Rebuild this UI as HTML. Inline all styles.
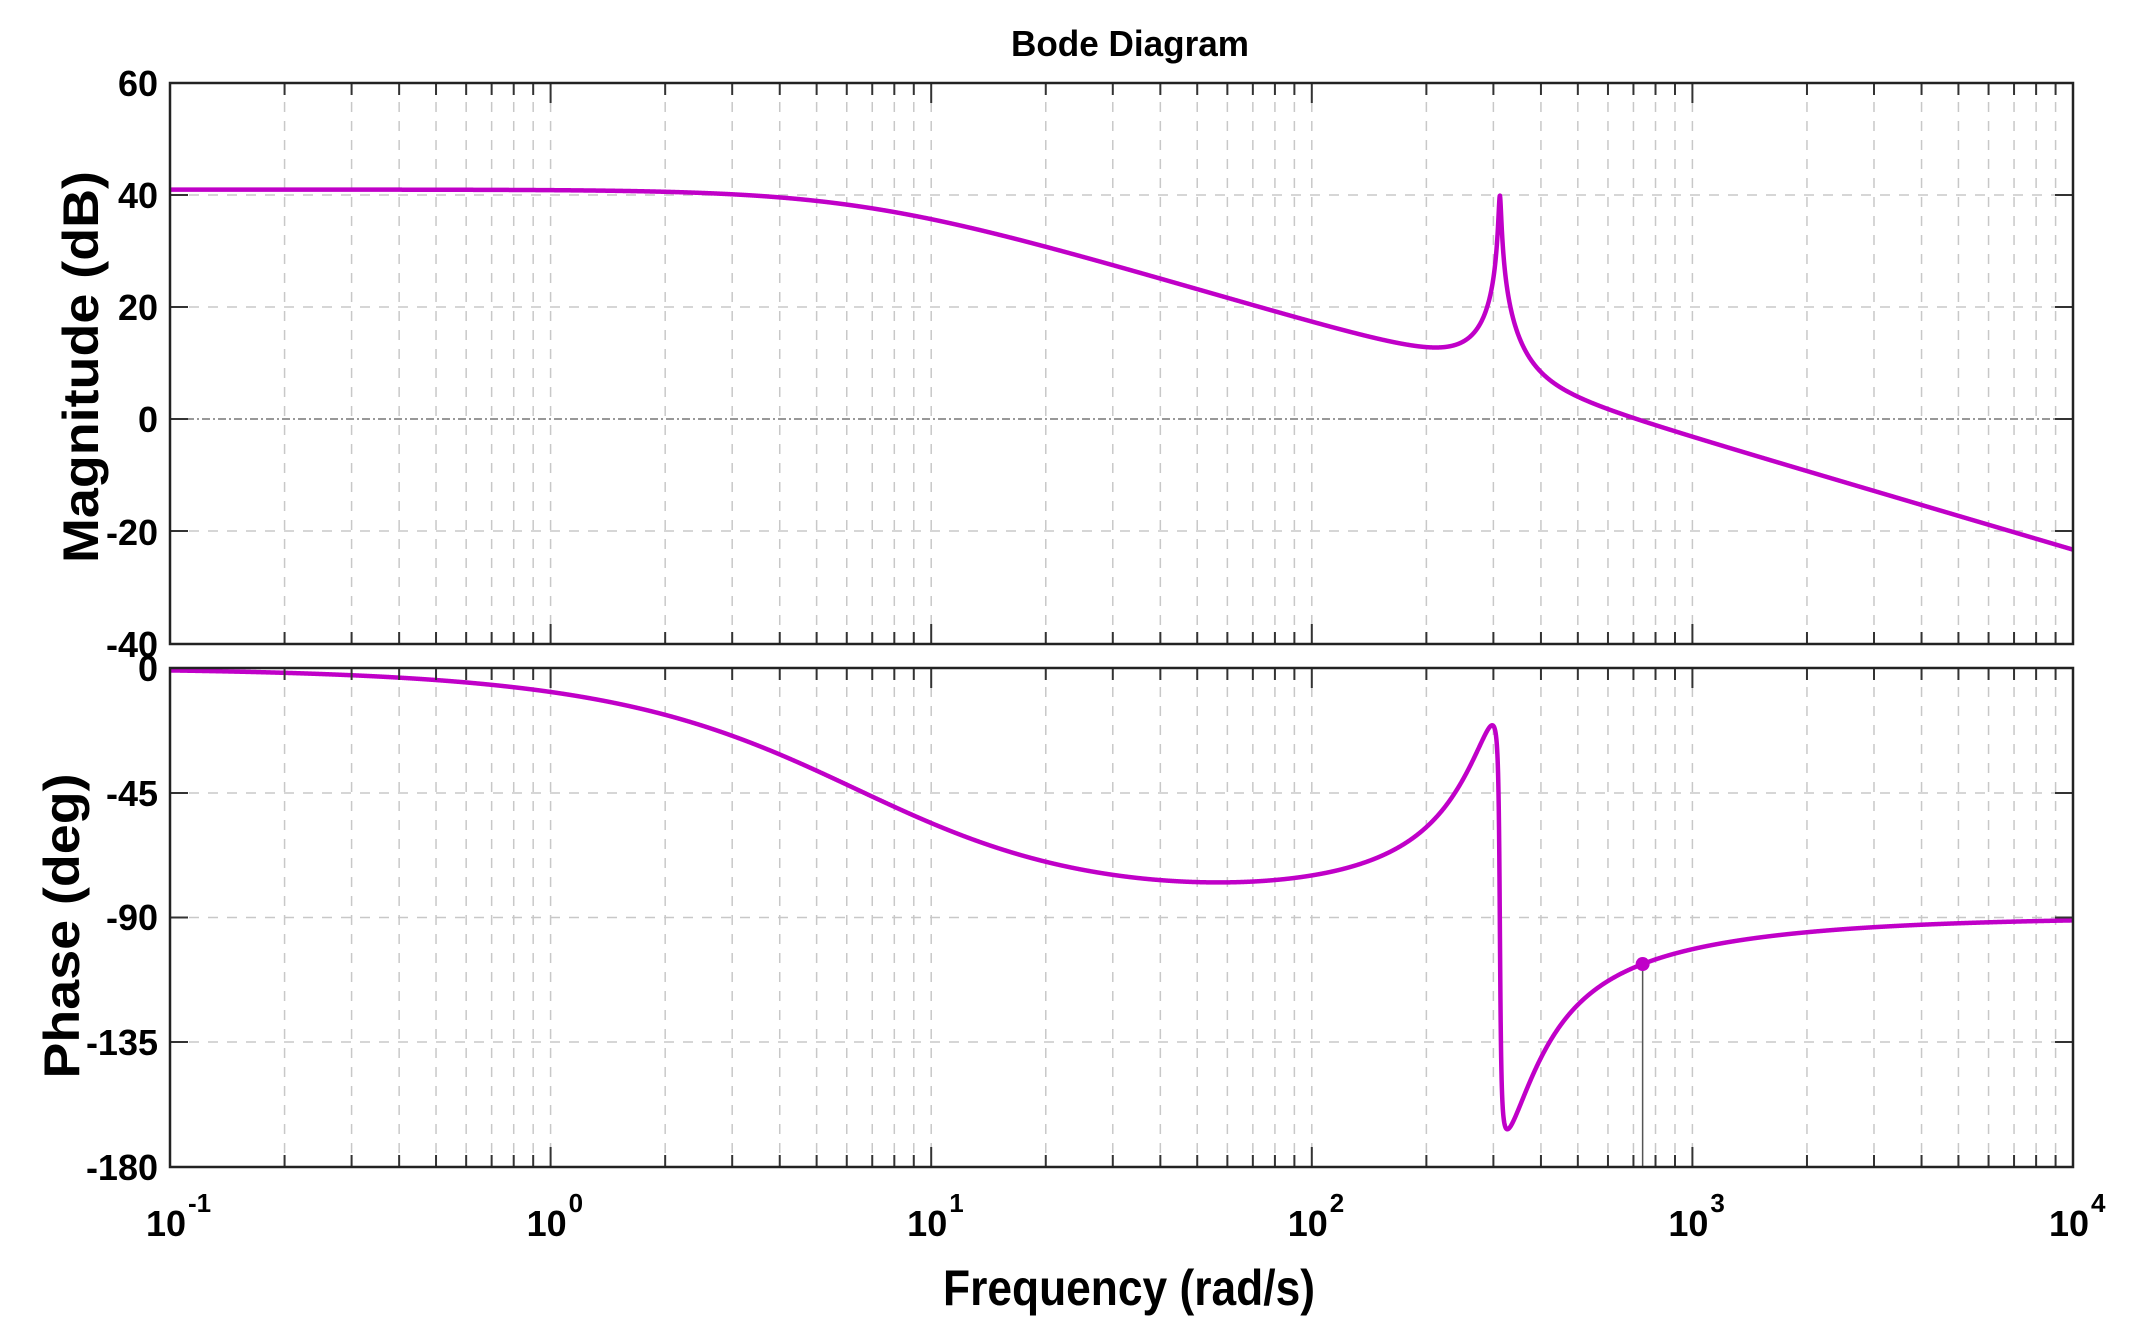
<!DOCTYPE html>
<html><head><meta charset="utf-8">
<style>
html,body{margin:0;padding:0;background:#fff;}
svg text{font-family:"Liberation Sans Narrow","Liberation Sans",sans-serif;font-weight:bold;fill:#000;}
</style></head>
<body>
<svg id="s" width="2133" height="1329" viewBox="0 0 2133 1329" xmlns="http://www.w3.org/2000/svg">
<rect width="2133" height="1329" fill="#fff"/>
<g id="grid"></g>
<g id="curves"></g>
<g id="axes"></g>
<text x="1130" y="56" font-size="36" text-anchor="middle" textLength="238" lengthAdjust="spacingAndGlyphs">Bode Diagram</text>
<g font-size="36" text-anchor="end">
<text x="158" y="96">60</text>
<text x="158" y="208">40</text>
<text x="158" y="320">20</text>
<text x="158" y="432">0</text>
<text x="158" y="545">-20</text>
<text x="158" y="657">-40</text>
<text x="158" y="681">0</text>
<text x="158" y="806">-45</text>
<text x="158" y="930">-90</text>
<text x="158" y="1055">-135</text>
<text x="158" y="1180">-180</text>
</g>
<text transform="translate(98,367) rotate(-90)" font-size="50" text-anchor="middle" textLength="392" lengthAdjust="spacingAndGlyphs">Magnitude (dB)</text>
<text transform="translate(79,926) rotate(-90)" font-size="50" text-anchor="middle" textLength="305" lengthAdjust="spacingAndGlyphs">Phase (deg)</text>
<text x="1129" y="1305" font-size="50" text-anchor="middle" textLength="372" lengthAdjust="spacingAndGlyphs">Frequency  (rad/s)</text>
<g id="xl" font-size="36"></g>
</svg>
<script>
var NS="http://www.w3.org/2000/svg";
var L=170,R=2073,MT=83,MB=644,PT=668,PB=1167,D=(R-L)/5;
function X(w){return L+(Math.log10(w)+1)*D;}
function el(p,t,a,txt){var e=document.createElementNS(NS,t);for(var k in a)e.setAttribute(k,a[k]);if(txt!==undefined)e.textContent=txt;document.getElementById(p).appendChild(e);return e;}
for(var d=-1;d<4;d++){for(var m=1;m<10;m++){var w=m*Math.pow(10,d);var x=X(w);
 if(x>L+1){
 el("grid","line",{x1:x,y1:MT,x2:x,y2:MB,stroke:"#c8c8c8","stroke-width":1.5,"stroke-dasharray":"10,9"});
 el("grid","line",{x1:x,y1:PT,x2:x,y2:PB,stroke:"#c8c8c8","stroke-width":1.5,"stroke-dasharray":"10,9"});}
 var tl=(m==1)?20:12;
 [[MT,1],[MB,-1],[PT,1],[PB,-1]].forEach(function(p){el("axes","line",{x1:x,y1:p[0],x2:x,y2:p[0]+p[1]*tl,stroke:"#333","stroke-width":2});});
}}
[195,307,531].forEach(function(y){el("grid","line",{x1:L,y1:y,x2:R,y2:y,stroke:"#c8c8c8","stroke-width":1.5,"stroke-dasharray":"10,9"});});
el("grid","line",{x1:L,y1:419,x2:R,y2:419,stroke:"#777","stroke-width":1.5,"stroke-dasharray":"8,3,2,3"});
[793,917.5,1042].forEach(function(y){el("grid","line",{x1:L,y1:y,x2:R,y2:y,stroke:"#c8c8c8","stroke-width":1.5,"stroke-dasharray":"10,9"});});
[195,307,419,531,793,917.5,1042].forEach(function(y){el("axes","line",{x1:L,y1:y,x2:L+18,y2:y,stroke:"#333","stroke-width":2});el("axes","line",{x1:R,y1:y,x2:R-18,y2:y,stroke:"#333","stroke-width":2});});
el("axes","rect",{x:L,y:MT,width:R-L,height:MB-MT,fill:"none",stroke:"#222","stroke-width":2.5});
el("axes","rect",{x:L,y:PT,width:R-L,height:PB-PT,fill:"none",stroke:"#222","stroke-width":2.5});
var ex=["-1","0","1","2","3","4"];
for(var i=0;i<6;i++){el("xl","text",{x:L+i*D-4,y:1236,"text-anchor":"middle"},"10");
 el("xl","text",{x:L+i*D+18,y:1212,"font-size":26,"text-anchor":"start"},ex[i]);}
var K=Math.pow(10,41/20),p1=6.5,wz=320,zz=0.3,wp=312,zp=0.0069;
function H(w){var u=w/wz,v=w/wp;
 var zr=1-u*u,zi=2*zz*u,pr=1-v*v,pi=2*zp*v;
 var mag=K/Math.sqrt(1+(w/p1)*(w/p1))*Math.sqrt(zr*zr+zi*zi)/Math.sqrt(pr*pr+pi*pi);
 var ph=-Math.atan(w/p1)+Math.atan2(zi,zr)-Math.atan2(pi,pr);
 return [20*Math.log10(mag),ph*180/Math.PI];}
var pm="",pp="",N=8000;
for(var i=0;i<=N;i++){var lw=-1+5*i/N,w=Math.pow(10,lw);var h=H(w);var x=X(w);
 var ym=MT+(60-h[0])/100*(MB-MT),yp=PT+(-h[1])/180*(PB-PT);
 ym=Math.max(MT,Math.min(MB,ym));
 pm+=(i?"L":"M")+x.toFixed(2)+","+ym.toFixed(2);pp+=(i?"L":"M")+x.toFixed(2)+","+yp.toFixed(2);}
el("curves","path",{d:pm,fill:"none",stroke:"#c000c8","stroke-width":4.5,"stroke-linejoin":"round"});
el("curves","path",{d:pp,fill:"none",stroke:"#c000c8","stroke-width":4.5,"stroke-linejoin":"round"});
var wm=740,hm=H(wm),xm=X(wm),ymk=PT+(-hm[1])/180*(PB-PT);
el("curves","line",{x1:xm,y1:ymk,x2:xm,y2:PB,stroke:"#555","stroke-width":1.5});
el("curves","circle",{cx:xm,cy:ymk,r:7,fill:"#c000c8"});
</script>
</body></html>
